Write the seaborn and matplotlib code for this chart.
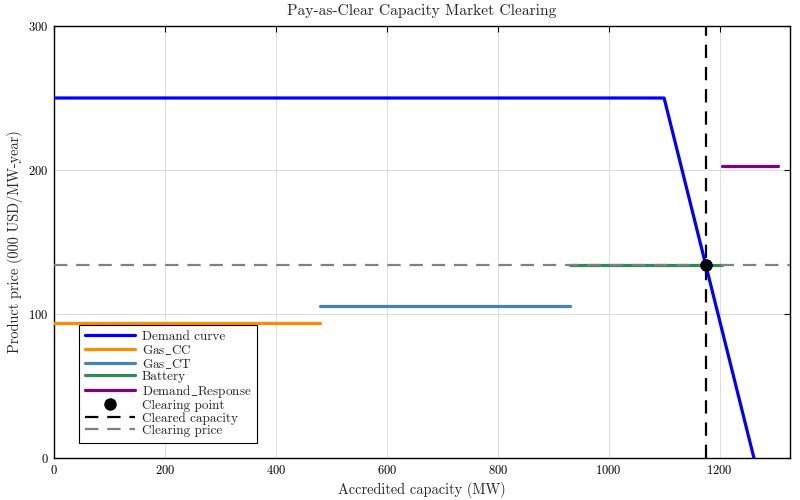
import numpy as np
import pandas as pd
import matplotlib
matplotlib.use("Agg")
import matplotlib.pyplot as plt
import seaborn as sns
from matplotlib.lines import Line2D

# demand curve (MW, 000 USD/MW-year)
demand_q = [0, 1100, 1262]
demand_p = [250, 250, 0]

# supply offers: technology, start MW, end MW, price
techs = ["Gas_CC", "Gas_CT", "Battery", "Demand_Response"]
tech_start = [0, 480, 930, 1205]
tech_end = [480, 930, 1205, 1305]
tech_price = [94, 105.5, 134, 203]
tech_colors = ["#ff8c00", "#4682b4", "#2e8b57", "#800080"]

clear_q = 1175
clear_p = 134

sns.set_theme(style="whitegrid")
plt.rcParams['font.family'] = ['cmr10', 'DejaVu Serif']
plt.rcParams['mathtext.fontset'] = 'cm'
plt.rcParams['axes.formatter.use_mathtext'] = True

rows = []
for t, s, e, p in zip(techs, tech_start, tech_end, tech_price):
    rows.append({'Technology': t, 'MW': s, 'Price': p})
    rows.append({'Technology': t, 'MW': e, 'Price': p})
df_supply = pd.DataFrame(rows)
df_demand = pd.DataFrame({'MW': demand_q, 'Price': demand_p})

fig = plt.figure(figsize=(8, 5), dpi=100)
ax = fig.add_axes([0.0675, 0.084, 0.92, 0.864])

ax.axhline(clear_p, color='gray', lw=1.6, ls=(0, (6, 4)), zorder=3.5)
ax.axvline(clear_q, color='black', lw=1.6, ls=(0, (6, 4)), zorder=2)

sns.lineplot(data=df_demand, x='MW', y='Price', sort=False, estimator=None,
             color='#0000ff', lw=2.3, ax=ax, zorder=4, legend=False)
sns.lineplot(data=df_supply, x='MW', y='Price', hue='Technology', sort=False,
             estimator=None, palette=dict(zip(techs, tech_colors)), lw=2.3,
             ax=ax, zorder=3, legend=False)
sns.scatterplot(x=[clear_q], y=[clear_p], color='black', s=70, ax=ax,
                zorder=5, edgecolor='black')

ax.set_xlim(0, 1327)
ax.set_ylim(0, 300)
ax.set_xticks([0, 200, 400, 600, 800, 1000, 1200])
ax.set_yticks([0, 100, 200, 300])
ax.grid(True, color='#d8d8d8', lw=0.6)
ax.set_facecolor('white')
for sp in ax.spines.values():
    sp.set_color('black')
    sp.set_linewidth(1.0)
ax.tick_params(direction='in', length=4, width=0.8, top=True, right=True,
               labelsize=9, colors='black', pad=4)

ax.set_title('Pay-as-Clear Capacity Market Clearing', fontsize=11.2, pad=8)
ax.set_xlabel('Accredited capacity (MW)', fontsize=10.3)
ax.set_ylabel('Product price (000 USD/MW-year)', fontsize=10.3)


def tex_label(s):
    # cmr10 has no underscore glyph, draw it through mathtext
    return s.replace('_', r'$\_$')


handles = [Line2D([], [], color='#0000ff', lw=2.3, label='Demand curve')]
for t, c in zip(techs, tech_colors):
    handles.append(Line2D([], [], color=c, lw=2.3, label=tex_label(t)))
handles.append(Line2D([], [], color='black', marker='o', ls='none', ms=8,
                      label='Clearing point'))
handles.append(Line2D([], [], color='black', lw=1.6, ls=(0, (6, 4)),
                      label='Cleared capacity'))
handles.append(Line2D([], [], color='gray', lw=1.6, ls=(0, (6, 4)),
                      label='Clearing price'))
leg = ax.legend(handles=handles, loc='lower left', bbox_to_anchor=(0.034, 0.035),
                borderaxespad=0, fontsize=9.5, frameon=True, fancybox=False,
                framealpha=1, edgecolor='black', handlelength=3.8,
                labelspacing=0.0, borderpad=0.45, handletextpad=0.5)
leg.get_frame().set_linewidth(0.8)

plt.savefig('out.png', dpi=100)
